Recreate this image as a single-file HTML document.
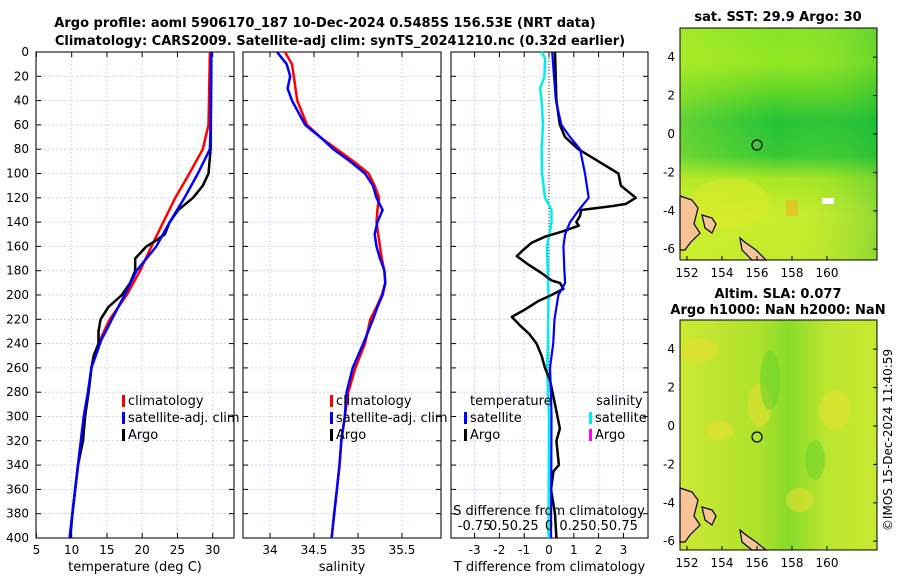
<!DOCTYPE html>
<html><head><meta charset="utf-8">
<style>
body{margin:0;background:#fff;font-family:"DejaVu Sans","Liberation Sans",sans-serif;}
svg text{font-family:"DejaVu Sans","Liberation Sans",sans-serif;}
</style></head>
<body>
<svg width="900" height="580" viewBox="0 0 900 580">
<defs>
<linearGradient id="sst" x1="0" y1="0" x2="0" y2="1">
<stop offset="0" stop-color="#86e42a"/><stop offset="0.15" stop-color="#92e622"/>
<stop offset="0.28" stop-color="#5ad426"/><stop offset="0.4" stop-color="#22c238"/>
<stop offset="0.55" stop-color="#34c834"/><stop offset="0.65" stop-color="#a6e626"/>
<stop offset="0.8" stop-color="#c8ec2e"/><stop offset="1" stop-color="#c4ea2c"/></linearGradient>
<linearGradient id="sstx" x1="0" y1="0" x2="1" y2="0">
<stop offset="0" stop-color="#d8f030" stop-opacity="0.35"/><stop offset="0.5" stop-color="#d8f030" stop-opacity="0"/>
<stop offset="1" stop-color="#10b040" stop-opacity="0.3"/></linearGradient>
<linearGradient id="sla" x1="0" y1="0" x2="1" y2="0">
<stop offset="0" stop-color="#cce834"/><stop offset="0.4" stop-color="#aee22c"/>
<stop offset="0.55" stop-color="#88da2a"/><stop offset="0.75" stop-color="#bce630"/>
<stop offset="1" stop-color="#c8e830"/></linearGradient>
</defs>
<text x="325" y="27" font-size="13" font-weight="bold" text-anchor="middle">Argo profile: aoml 5906170_187 10-Dec-2024 0.5485S 156.53E (NRT data)</text>
<text x="340" y="45" font-size="13" font-weight="bold" text-anchor="middle">Climatology: CARS2009. Satellite-adj clim: synTS_20241210.nc (0.32d earlier)</text>
<g id="p1"></g>
<g id="p2"></g>
<g id="p3"></g>
<g id="maps"></g>
<text transform="translate(892,440) rotate(-90)" font-size="12" text-anchor="middle">©IMOS 15-Dec-2024 11:40:59</text>
</svg>
<script>
const depthTicks=[0,20,40,60,80,100,120,140,160,180,200,220,240,260,280,300,320,340,360,380,400];
const tempTicks=[5,10,15,20,25,30];
const salTicks=[34,34.5,35,35.5];
const tdTicks=[-3,-2,-1,0,1,2,3];
const climDepth=[0,60,80,100,120,140,160,180,200,220,237,260,280,300,320,340,360,380,400];
const climTemp=[29.6,29.4,28.6,26.7,24.7,23.0,21.3,19.7,17.8,15.4,14.0,12.8,12.4,11.8,11.3,10.9,10.5,10.1,9.7];
const satTemp=[29.8,29.7,29.6,27.9,26.0,23.9,22.0,19.2,17.5,15.7,14.2,12.8,12.3,11.7,11.3,10.9,10.5,10.1,9.7];
const argoDepth=[0,80,100,110,120,130,140,150,155,160,170,180,190,200,210,220,230,240,250,260,280,300,320,340,360,380,400];
const argoTemp=[29.8,29.7,29.4,28.6,27.2,25.1,23.9,23.2,22.0,20.6,19.0,19.0,18.3,17.1,15.2,14.1,13.8,13.8,13.1,12.8,12.4,11.9,11.6,10.9,10.5,10.1,9.8];
const salDepth=[0,10,20,30,40,60,70,80,90,100,110,120,130,140,150,160,170,180,190,200,210,220,240,260,280,300,320,340,360,380,400];
const climSal=[34.17,34.25,34.27,34.29,34.31,34.42,34.57,34.76,34.95,35.12,35.19,35.24,35.22,35.21,35.23,35.25,35.27,35.30,35.31,35.27,35.21,35.14,35.08,34.97,34.89,34.85,34.81,34.79,34.76,34.73,34.70];
const satSal=[34.08,34.19,34.23,34.20,34.25,34.40,34.57,34.72,34.91,35.08,35.17,35.21,35.28,35.22,35.19,35.21,35.25,35.30,35.31,35.28,35.22,35.17,35.06,34.94,34.87,34.85,34.81,34.79,34.76,34.73,34.70];
const diffDepth=[0,20,40,60,70,80,100,120,130,140,150,160,180,190,200,220,240,260,280,300,400];
const satTDiff=[0.13,0.2,0.28,0.5,0.85,1.25,1.45,1.6,1.2,0.85,0.65,0.58,0.62,0.65,0.38,0.22,0.17,0.04,0.08,0.1,0.08];
const argoDDepth=[0,40,60,70,80,90,100,110,120,125,127,130,135,140,143,148,152,157,163,168,175,182,188,190,195,200,205,212,218,225,232,240,250,260,270,290,310,320,340,345,360,380,400];
const argoTDiff=[0.24,0.3,0.44,0.65,1.18,2.0,2.8,2.9,3.5,3.1,2.5,1.3,1.25,1.1,1.2,0.5,-0.16,-0.7,-1.04,-1.3,-0.83,-0.3,0.1,0.44,0.58,0.1,-0.43,-0.97,-1.5,-1.17,-0.8,-0.5,-0.3,-0.16,0.04,0.24,0.44,0.3,0.4,0.18,0.08,0.24,0.3];
const sDiffDepth=[0,5,20,30,40,60,80,100,120,130,140,160,200,240,260,280,300,400];
const satSDiff=[-0.075,-0.04,-0.045,-0.09,-0.075,-0.06,-0.075,-0.07,-0.04,0.025,0.025,-0.02,-0.005,-0.01,-0.02,-0.01,0,-0.005];
const sTickVals=[-0.75,-0.5,-0.25,0,0.25,0.5,0.75];
const sTickLabels=["-0.75","0.5","0.25","0","0.25","0.5","0.75"];

const NS="http://www.w3.org/2000/svg";
function mk(tag,attrs,parent){const e=document.createElementNS(NS,tag);for(const k in attrs)e.setAttribute(k,attrs[k]);parent.appendChild(e);return e;}
const Y0=52,Y1=538;
const yS=d=>Y0+(d/400)*(Y1-Y0);

function panel(g,x0,x1,xs,xticks,xlabel,fmt,showY){
  mk('rect',{x:x0,y:Y0,width:x1-x0,height:Y1-Y0,fill:'#fff'},g);
  depthTicks.forEach(d=>{const l=mk('line',{x1:x0,x2:x1,y1:yS(d),y2:yS(d),stroke:'#c4cae8','stroke-width':0.8,'stroke-dasharray':'2,2'},g);
    
    mk('line',{x1:x0,x2:x0+5,y1:yS(d),y2:yS(d),stroke:'#000'},g);
    mk('line',{x1:x1,x2:x1-5,y1:yS(d),y2:yS(d),stroke:'#000'},g);
    if(showY){const tx=mk('text',{x:x0-7,y:yS(d)+4,'font-size':12,'text-anchor':'end'},g);tx.textContent=d;
      }});
  xticks.forEach(v=>{const x=xs(v);mk('line',{x1:x,x2:x,y1:Y0,y2:Y1,stroke:'#c4cae8','stroke-width':0.8,'stroke-dasharray':'2,2'},g);
    mk('line',{x1:x,x2:x,y1:Y1,y2:Y1-5,stroke:'#000'},g);
    mk('line',{x1:x,x2:x,y1:Y0,y2:Y0+5,stroke:'#000'},g);
    const tx=mk('text',{x:x,y:Y1+16,'font-size':12,'text-anchor':'middle'},g);tx.textContent=fmt(v);
    });
  mk('rect',{x:x0,y:Y0,width:x1-x0,height:Y1-Y0,fill:'none',stroke:'#222','stroke-width':1.2},g);
  const xl=mk('text',{x:(x0+x1)/2,y:Y1+33,'font-size':13,'text-anchor':'middle'},g);xl.textContent=xlabel;
  
}
function line(g,xs,vals,depths,col,w,name){
  const d=vals.map((v,i)=>(i?'L':'M')+xs(v).toFixed(1)+','+yS(depths[i]).toFixed(1)).join('');
  const p=mk('path',{d:d,fill:'none',stroke:col,'stroke-width':w,'stroke-linejoin':'round'},g);
  
}
function legend(g,x,y,items){
  items.forEach((it,i)=>{mk('rect',{x:x,y:y+i*17-10,width:3,height:12,fill:it[1]},g);
    const t=mk('text',{x:x+6,y:y+i*17,'font-size':13},g);t.textContent=it[0];
    });
}
// panel 1
const g1=document.getElementById('p1');
const xT=v=>71.7+(v-10)*7.05;
panel(g1,36,234,xT,tempTicks,'temperature (deg C)',v=>v,true);
line(g1,xT,climTemp,climDepth,'#ff0000',2.5,'climatology-temp-line');
line(g1,xT,argoTemp,argoDepth,'#000',2.5,'argo-temp-line');
line(g1,xT,satTemp,climDepth,'#0000ff',2.5,'satellite-temp-line');
legend(g1,122,405,[['climatology','#f00'],['satellite-adj. clim','#00f'],['Argo','#000']]);
// panel 2
const g2=document.getElementById('p2');
const xS=v=>270+(v-34)*88;
panel(g2,243,441,xS,salTicks,'salinity',v=>v,false);
line(g2,xS,climSal,salDepth,'#ff0000',2.5,'climatology-salinity-line');
line(g2,xS,satSal,salDepth,'#0000ff',2.5,'satellite-salinity-line');
legend(g2,330,405,[['climatology','#f00'],['satellite-adj. clim','#00f'],['Argo','#000']]);
// panel 3
const g3=document.getElementById('p3');
const xD=v=>549+v*24.8;
const xSD=v=>549+v*4*24.8;
panel(g3,451,648,xD,tdTicks,'T difference from climatology',v=>v,false);
mk('line',{x1:549,x2:549,y1:Y0,y2:Y1,stroke:'#333','stroke-width':1,'stroke-dasharray':'1,2'},g3);
line(g3,xSD,satSDiff,sDiffDepth,'#00eeee',2.5,'satellite-salinity-diff-line');
line(g3,xD,argoTDiff,argoDDepth,'#000',2.5,'argo-temp-diff-line');
line(g3,xD,satTDiff,diffDepth,'#0000ff',2.2,'satellite-temp-diff-line');
let tt=mk('text',{x:470,y:405,'font-size':13},g3);tt.textContent='temperature';
tt=mk('text',{x:596,y:405,'font-size':13},g3);tt.textContent='salinity';
legend(g3,464,422,[['satellite','#00f'],['Argo','#000']]);
legend(g3,589,422,[['satellite','#0ee'],['Argo','#f0f']]);
tt=mk('text',{x:549,y:515,'font-size':13,'text-anchor':'middle'},g3);tt.textContent='S difference from climatology';

sTickVals.forEach((v,i)=>{const t=mk('text',{x:xSD(v),y:530,'font-size':13,'text-anchor':'middle'},g3);t.textContent=sTickLabels[i];
  });

// maps
const gm=document.getElementById('maps');
function map(y0,y1,fill,title1,title2,isSla){
  const x0=680,x1=877;
  mk('rect',{x:x0,y:y0,width:x1-x0,height:y1-y0,fill:fill},gm);
  if(!isSla){
    mk('rect',{x:x0,y:y0,width:x1-x0,height:y1-y0,fill:'url(#sstx)'},gm);
    mk('ellipse',{cx:730,cy:y0+175,rx:40,ry:25,fill:'#e0ea2a',opacity:0.5},gm);
    mk('rect',{x:786,y:y0+172,width:12,height:16,fill:'#f0b028',opacity:0.6},gm);
    mk('rect',{x:822,y:y0+170,width:12,height:6,fill:'#fff'},gm);
  } else {
    [[700,y0+30,18,12],[760,y0+85,12,22],[835,y0+90,16,20],[720,y0+110,14,10],[800,y0+180,14,12]].forEach(e=>mk('ellipse',{cx:e[0],cy:e[1],rx:e[2],ry:e[3],fill:'#e4e030',opacity:0.6},gm));
    [[770,y0+60,10,30],[815,y0+140,10,20]].forEach(e=>mk('ellipse',{cx:e[0],cy:e[1],rx:e[2],ry:e[3],fill:'#6cd42a',opacity:0.6},gm));
  }
  const land=[[x0,y0+168,x0+12,y0+172,x0+18,y0+180,x0+14,y0+196,x0+20,y0+205,x0+10,y0+215,x0+5,y0+222,x0,y0+222],
    [x0+22,y0+187,x0+32,y0+190,x0+36,y0+196,x0+32,y0+205,x0+25,y0+200],
    [x0+60,y0+210,x0+66,y0+215,x0+76,y0+222,x0+86,y0+232,x0+72,y0+232,x0+62,y0+222]];
  land.forEach(p=>{const pts=[];for(let i=0;i<p.length;i+=2)pts.push(p[i]+','+Math.min(p[i+1],y1));
    mk('polygon',{points:pts.join(' '),fill:'#f8c496',stroke:'#000','stroke-width':1.2},gm);});
  const c=mk('circle',{cx:757,cy:y0+117,r:5,fill:'none',stroke:'#000','stroke-width':1.3},gm);
  
  mk('rect',{x:x0,y:y0,width:x1-x0,height:y1-y0,fill:'none',stroke:'#000'},gm);
  const lat=[4,2,0,-2,-4,-6];
  lat.forEach(v=>{const y=y0+106-v*19.2;mk('line',{x1:x1,x2:x1-4,y1:y,y2:y,stroke:'#000'},gm);
    const t=mk('text',{x:x0-5,y:y+4,'font-size':12,'text-anchor':'end'},gm);t.textContent=v;});
  [152,154,156,158,160].forEach(v=>{const x=757+(v-156)*17.5;
    mk('line',{x1:x,x2:x,y1:y1,y2:y1-4,stroke:'#000'},gm);
    const t=mk('text',{x:x,y:y1+17,'font-size':12,'text-anchor':'middle'},gm);t.textContent=v;});
  let t=mk('text',{x:778,y:title2?y0-22:y0-7,'font-size':13,'font-weight':'bold','text-anchor':'middle'},gm);t.textContent=title1;
  if(title2){t=mk('text',{x:778,y:y0-6,'font-size':13,'font-weight':'bold','text-anchor':'middle'},gm);t.textContent=title2;}
}
map(28,260,'url(#sst)','sat. SST: 29.9 Argo: 30');
map(320,550,'url(#sla)','Altim. SLA: 0.077','Argo h1000: NaN h2000: NaN',true);
</script>
</body></html>
